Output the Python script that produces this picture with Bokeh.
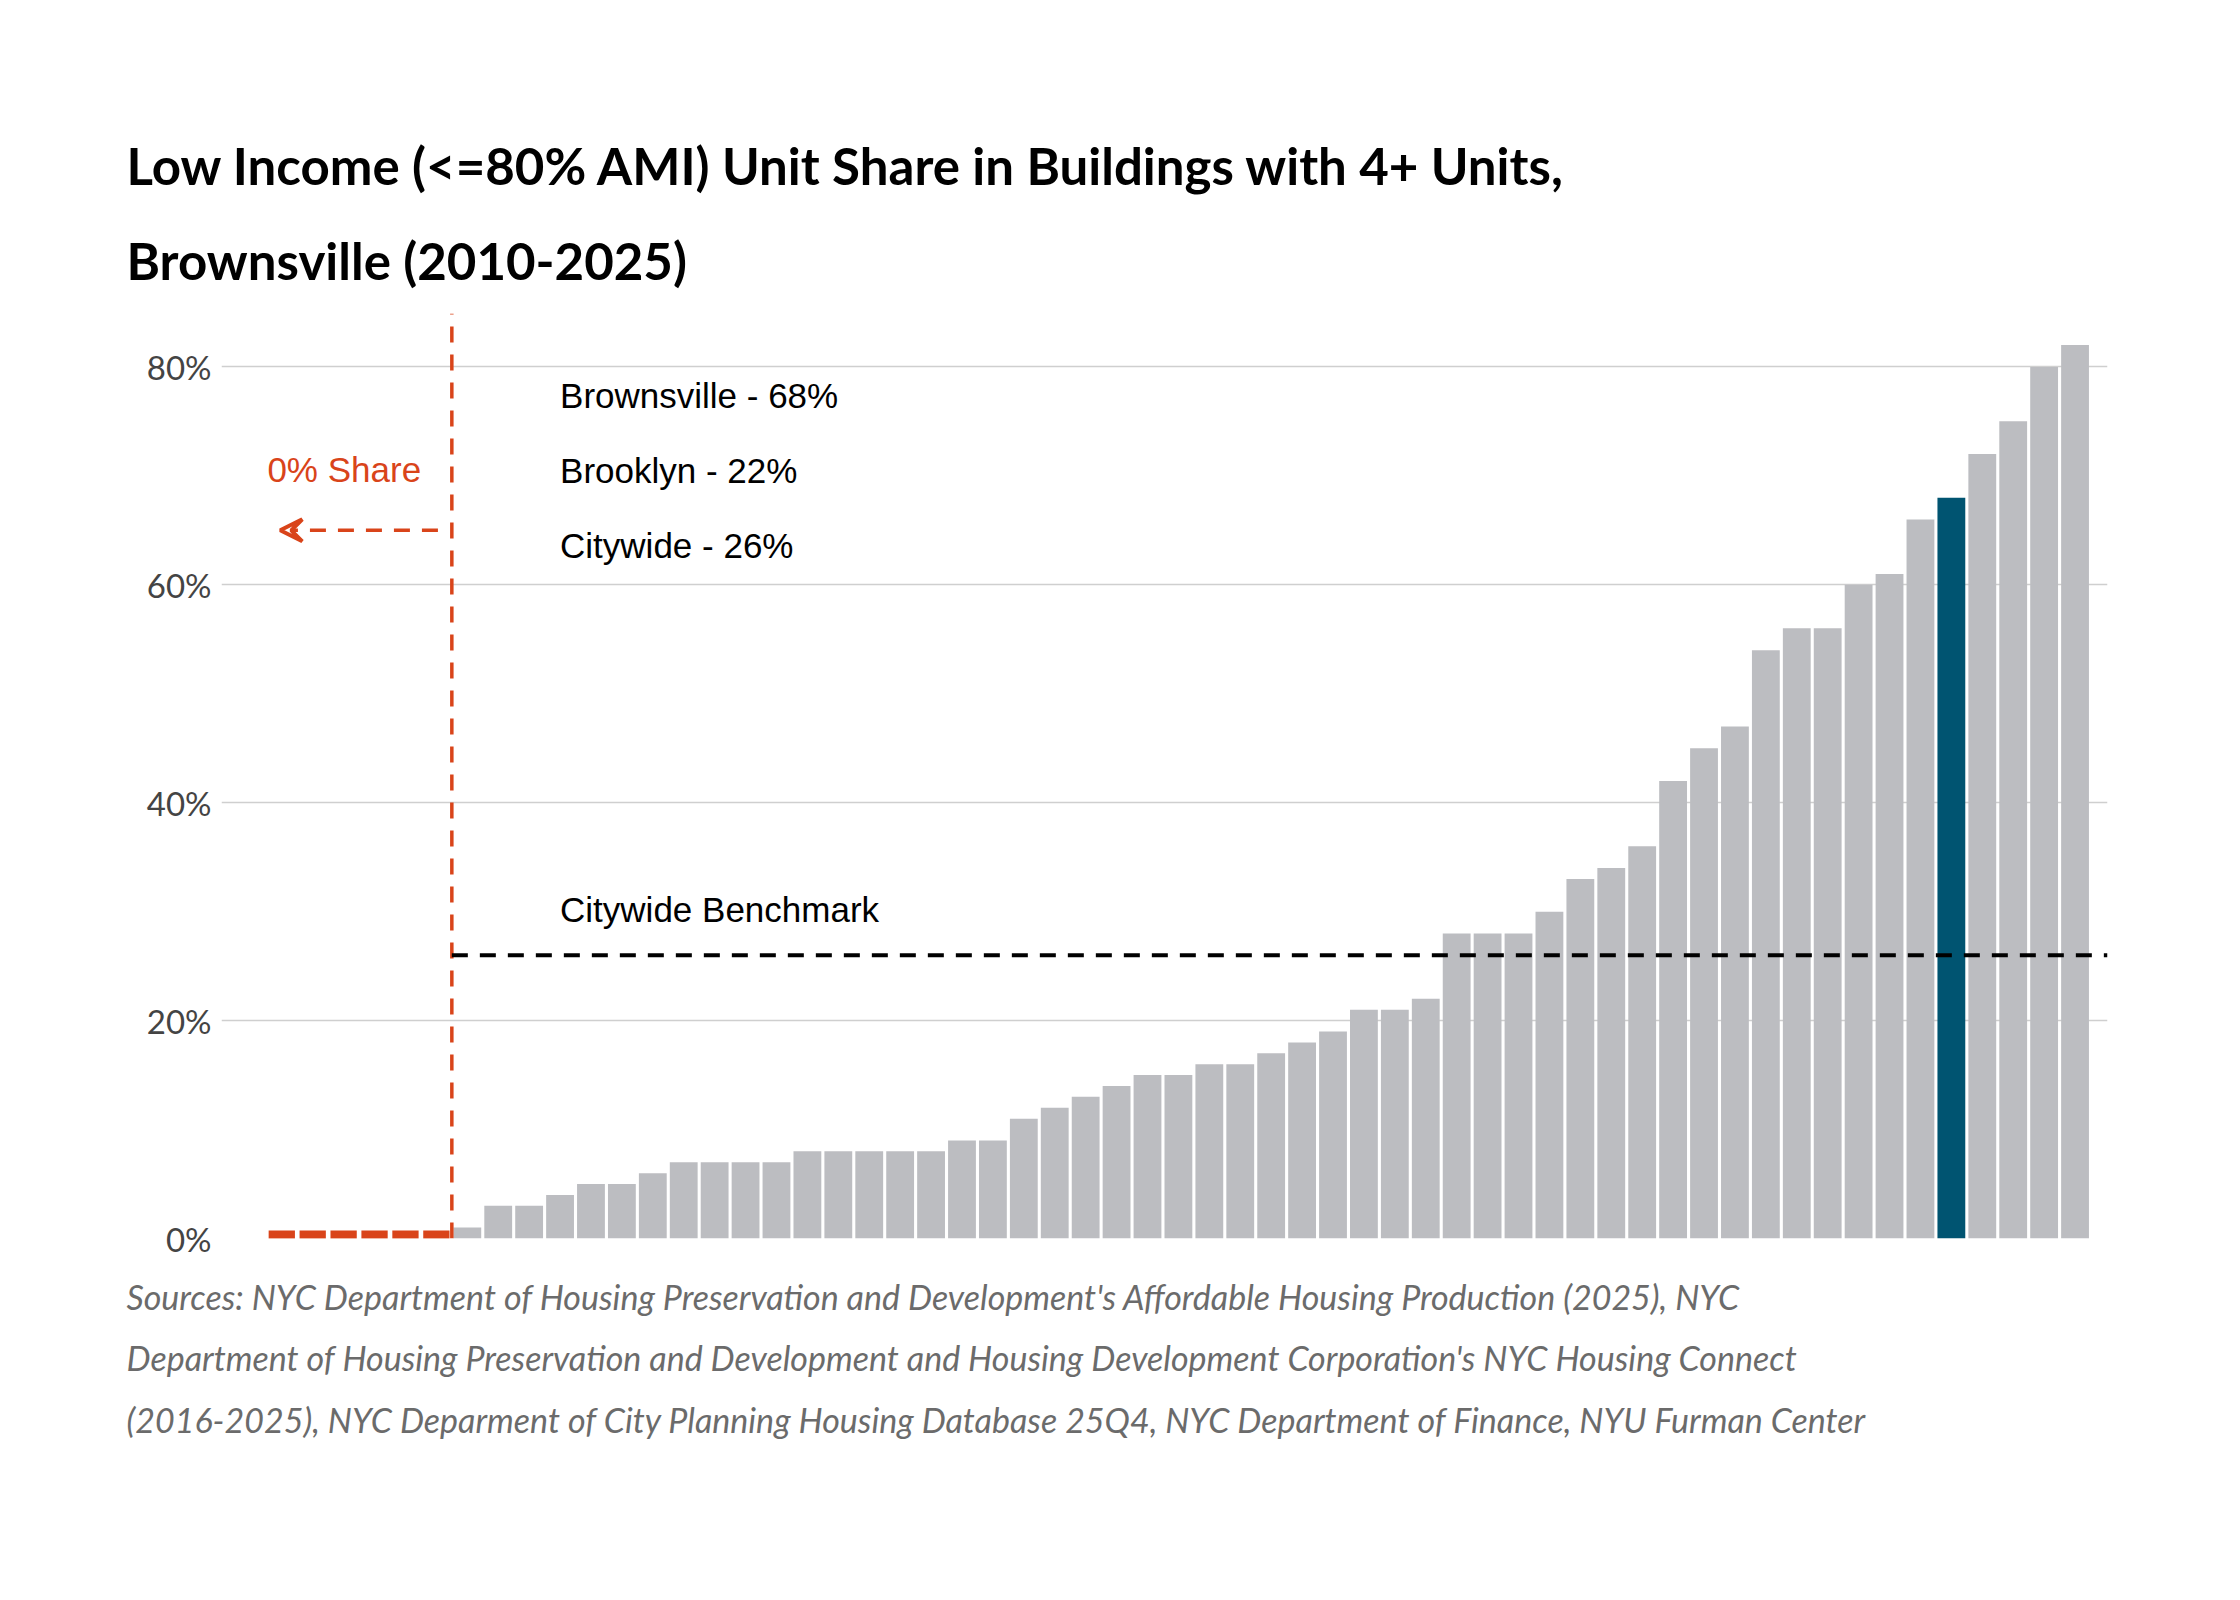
from bokeh.plotting import figure
from bokeh.models import Range1d, Label, Arrow, VeeHead, FixedTicker, CustomJSTickFormatter, Title
from bokeh.embed import file_html
from bokeh.resources import INLINE

zero_count = 6
shares = [1,3,3,4,5,5,6,7,7,7,7,8,8,8,8,8,9,9,11,12,13,14,15,15,16,16,17,18,19,21,21,22,
          28,28,28,30,33,34,36,42,45,47,54,56,56,60,61,66,68,72,75,80,82]
highlight_value = 68
benchmark = 26
arrow_level = 65
ticks = [0, 20, 40, 60, 80]
title_lines = ["Low Income (<=80% AMI) Unit Share in Buildings with 4+ Units,", "Brownsville (2010-2025)"]
notes = ["Brownsville - 68%", "Brooklyn - 22%", "Citywide - 26%"]
source_lines = ["Sources: NYC Department of Housing Preservation and Development's Affordable Housing Production (2025), NYC",
                "Department of Housing Preservation and Development and Housing Development Corporation's NYC Housing Connect",
                " (2016-2025), NYC Deparment of City Planning Housing Database 25Q4, NYC Department of Finance, NYU Furman Center"]

W, H = 2224, 1584
FL, FT, FW, FH = 221, 313, 1886, 925
p = figure(width=W, height=H, output_backend="svg", toolbar_location=None,
           x_range=Range1d(-1.95, 59.05), y_range=Range1d(0, 84.9),
           min_border_left=FL, min_border_right=W-FL-FW,
           min_border_top=FT, min_border_bottom=H-FT-FH)
p.outline_line_color = None
p.xaxis.visible = False
p.xgrid.visible = False
p.ygrid.grid_line_color = "#cfcfcf"
p.ygrid.grid_line_width = 1.5
p.yaxis.ticker = FixedTicker(ticks=ticks)
p.yaxis.formatter = CustomJSTickFormatter(code="return tick + '%'")
p.yaxis.axis_line_color = None
p.yaxis.major_tick_line_color = None
p.yaxis.minor_tick_line_color = None
p.yaxis.major_label_text_font = "Lato"
p.yaxis.major_label_text_font_size = "33px"
p.yaxis.major_label_text_color = "#444444"
p.yaxis.major_label_standoff = 4

xs = [zero_count + i for i in range(len(shares))]
colors = ["#005471" if v == highlight_value else "#bcbdc1" for v in shares]
p.vbar(x=xs, top=shares, bottom=0, width=0.9, fill_color=colors, line_color=None)
zx = list(range(zero_count))
p.rect(x=zx, y=[0.35]*zero_count, width=0.85, height=0.75, fill_color="#d9441a", line_color=None)

p.line(x=[zero_count-0.5, zero_count-0.5], y=[0, 84.9], line_color="#d9441a", line_width=3.5, line_dash="16 12")
p.line(x=[zero_count-0.5, 59.05], y=[benchmark, benchmark], line_color="black", line_width=4, line_dash="16 12")
p.add_layout(Arrow(x_start=zero_count-0.5-0.45, y_start=arrow_level, x_end=-0.05, y_end=arrow_level,
                   line_color="#d9441a", line_width=3.5, line_dash="16 12",
                   end=VeeHead(size=22, line_color="#d9441a", line_width=4, fill_color=None)))

def lab(x, y, t, **kw):
    p.add_layout(Label(x=x, y=y, text=t, **kw))

for i, t in enumerate(notes):
    lab(9.0, 77.4 - 6.9*i, t, text_font="Liberation Sans", text_font_size="35px",
        text_color="black", text_baseline="middle")
lab(9.0, 30.2, "Citywide Benchmark", text_font="Liberation Sans", text_font_size="35px",
    text_color="black", text_baseline="middle")
lab(2.02, 70.6, "0% Share", text_font="Liberation Sans", text_font_size="35px",
    text_color="#d9441a", text_baseline="middle", text_align="center")

t = Title(text="\n".join(title_lines), align="left", offset=-95, standoff=45,
          text_font="Lato", text_font_style="bold", text_font_size="51px",
          text_color="black", text_line_height=1.55)
p.add_layout(t, "above")
s = Title(text="\n".join(source_lines), align="left", offset=-95, standoff=70,
          text_font="Lato", text_font_style="italic", text_font_size="34px",
          text_color="#6b6b6b", text_line_height=1.5)
p.add_layout(s, "below")

open("out.html", "w").write(file_html(p, INLINE))
